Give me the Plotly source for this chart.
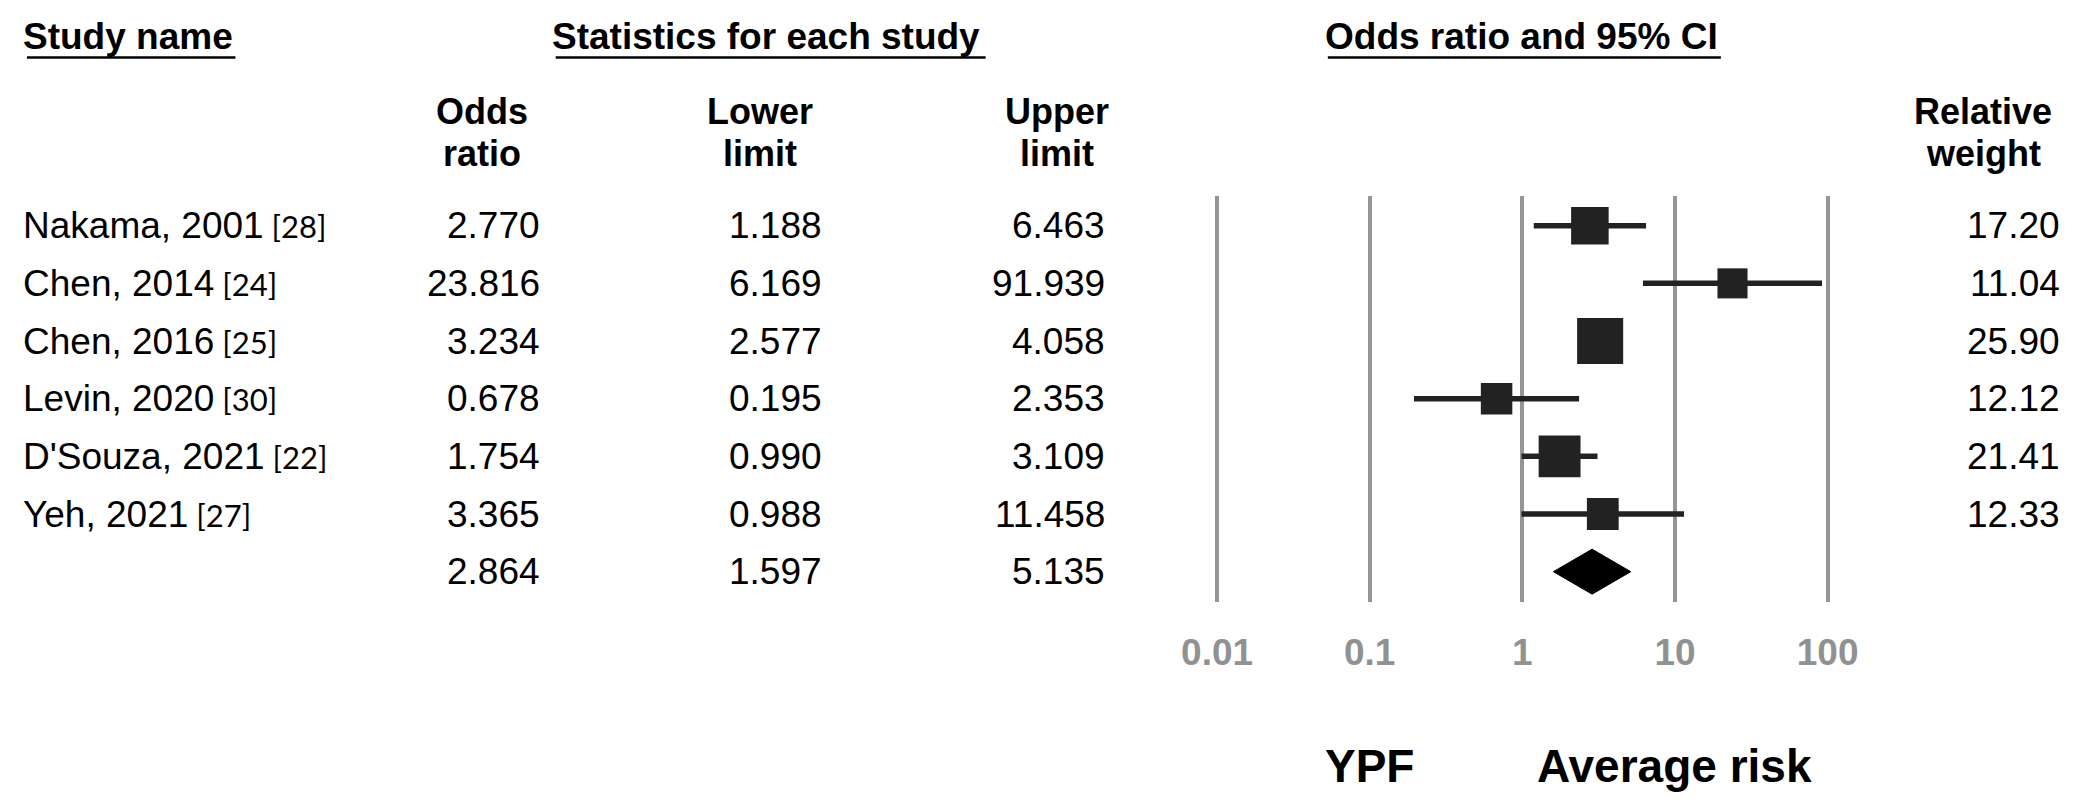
import math
import plotly.graph_objects as go

# ---------------- data ----------------
studies = ["Nakama, 2001", "Chen, 2014", "Chen, 2016", "Levin, 2020", "D'Souza, 2021", "Yeh, 2021"]
refs = ["[28]", "[24]", "[25]", "[30]", "[22]", "[27]"]
odds_ratio = [2.770, 23.816, 3.234, 0.678, 1.754, 3.365]
lower_limit = [1.188, 6.169, 2.577, 0.195, 0.990, 0.988]
upper_limit = [6.463, 91.939, 4.058, 2.353, 3.109, 11.458]
rel_weight = [17.20, 11.04, 25.90, 12.12, 21.41, 12.33]
summary_or = 2.864
summary_lower = 1.597
summary_upper = 5.135
tick_vals = [0.01, 0.1, 1, 10, 100]
tick_text = ["0.01", "0.1", "1", "10", "100"]
favours_labels = ["YPF", "Average risk"]
favours_pos = [0.1, 10]

# ---------------- layout helpers ----------------
W, H = 2081, 803
FONT = "Liberation Sans, Arial, sans-serif"
REF_FONT = "Lato, Carlito, sans-serif"
DARK = "#222222"
GRID = "#959595"


def px_x(p):
    return p / W


def px_y(p):
    return 1 - p / H


rows = list(range(len(studies)))
summary_row = len(studies)

fig = go.Figure()

# whiskers
wx, wy = [], []
for i, (lo, hi) in enumerate(zip(lower_limit, upper_limit)):
    wx += [lo, hi, None]
    wy += [i, i, None]
fig.add_trace(go.Scatter(x=wx, y=wy, mode="lines",
                         line=dict(color=DARK, width=5.5), hoverinfo="skip"))

# squares (area proportional to weight)
fig.add_trace(go.Scatter(
    x=odds_ratio, y=rows, mode="markers",
    marker=dict(symbol="square", color=DARK, opacity=1,
                size=[9.05 * math.sqrt(w) for w in rel_weight],
                line=dict(width=0)),
    hoverinfo="skip"))

# summary diamond
dh = 0.39
fig.add_trace(go.Scatter(
    x=[summary_lower, summary_or, summary_upper, summary_or, summary_lower],
    y=[summary_row, summary_row - dh, summary_row, summary_row + dh, summary_row],
    mode="lines", fill="toself", fillcolor="#000000",
    line=dict(color="#000000", width=1), hoverinfo="skip"))

ann = []


def add_text(text, x, y, xanchor, size=37, bold=False, color="#000000", yref="paper"):
    t = f"<b>{text}</b>" if bold else text
    ann.append(dict(text=t, x=x, y=y, xref="paper", yref=yref,
                    xanchor=xanchor, yanchor="middle", showarrow=False,
                    font=dict(family=FONT, size=size, color=color)))


LEFT = 16

# section headers
add_text("Study name", px_x(LEFT), px_y(37), "left", bold=True)
add_text("Statistics for each study", px_x(546), px_y(37), "left", bold=True)
add_text("Odds ratio and 95% CI", px_x(1321), px_y(37), "left", bold=True)

# column headers
col_heads = [("Odds", "ratio", 478), ("Lower", "limit", 757),
             ("Upper", "limit", 1055), ("Relative", "weight", 1983)]
for l1, l2, cx in col_heads:
    add_text(l1, px_x(cx), px_y(111), "center", size=36, bold=True)
    add_text(l2, px_x(cx), px_y(153), "center", size=36, bold=True)

# table rows
for i in rows:
    name = (f"{studies[i]}<span style='font-family:{REF_FONT};font-size:31px'>"
            f" {refs[i]}</span>")
    add_text(name, px_x(LEFT), i, "left", yref="y")
    add_text(f"{odds_ratio[i]:.3f}", px_x(538), i, "right", yref="y")
    add_text(f"{lower_limit[i]:.3f}", px_x(821), i, "right", yref="y")
    add_text(f"{upper_limit[i]:.3f}", px_x(1105), i, "right", yref="y")
    add_text(f"{rel_weight[i]:.2f}", px_x(2062), i, "right", yref="y")

add_text(f"{summary_or:.3f}", px_x(538), summary_row, "right", yref="y")
add_text(f"{summary_lower:.3f}", px_x(821), summary_row, "right", yref="y")
add_text(f"{summary_upper:.3f}", px_x(1105), summary_row, "right", yref="y")

# favours labels under the axis
for lab, pos in zip(favours_labels, favours_pos):
    ann.append(dict(text=f"<b>{lab}</b>", x=math.log10(pos), y=px_y(766),
                    xref="x", yref="paper", xanchor="center", yanchor="middle",
                    showarrow=False, font=dict(family=FONT, size=46, color="#000000")))

# underlines of section headers
shapes = []
for x0, x1 in [(22, 231), (552, 983), (1326, 1720)]:
    shapes.append(dict(type="line", xref="paper", yref="paper",
                       x0=px_x(x0), x1=px_x(x1), y0=px_y(57.5), y1=px_y(57.5),
                       line=dict(color="#000000", width=2.7)))

plot_top, plot_bottom = 196, 602
row0_px, row_step = 225.7, 57.66

fig.update_layout(
    width=W, height=H,
    margin=dict(l=0, r=0, t=0, b=0),
    paper_bgcolor="white", plot_bgcolor="white",
    showlegend=False,
    annotations=ann, shapes=shapes,
    xaxis=dict(type="log", range=[-2.2, 2.2],
               domain=[px_x(1184.4), px_x(1857.6)],
               tickvals=tick_vals, ticktext=tick_text,
               tickfont=dict(family=FONT, size=37, color="#919191", weight="bold"),
               showgrid=True, gridcolor=GRID, gridwidth=4,
               zeroline=False, showline=False, ticks="",
               ticklabelstandoff=25, fixedrange=True),
    yaxis=dict(range=[(plot_bottom - row0_px) / row_step, (plot_top - row0_px) / row_step],
               domain=[px_y(plot_bottom), px_y(plot_top)],
               visible=False, fixedrange=True),
)

fig.write_html("out.html", config={"displayModeBar": False, "staticPlot": True},
               post_script="document.body.style.margin='0';document.body.style.overflow='hidden';")
